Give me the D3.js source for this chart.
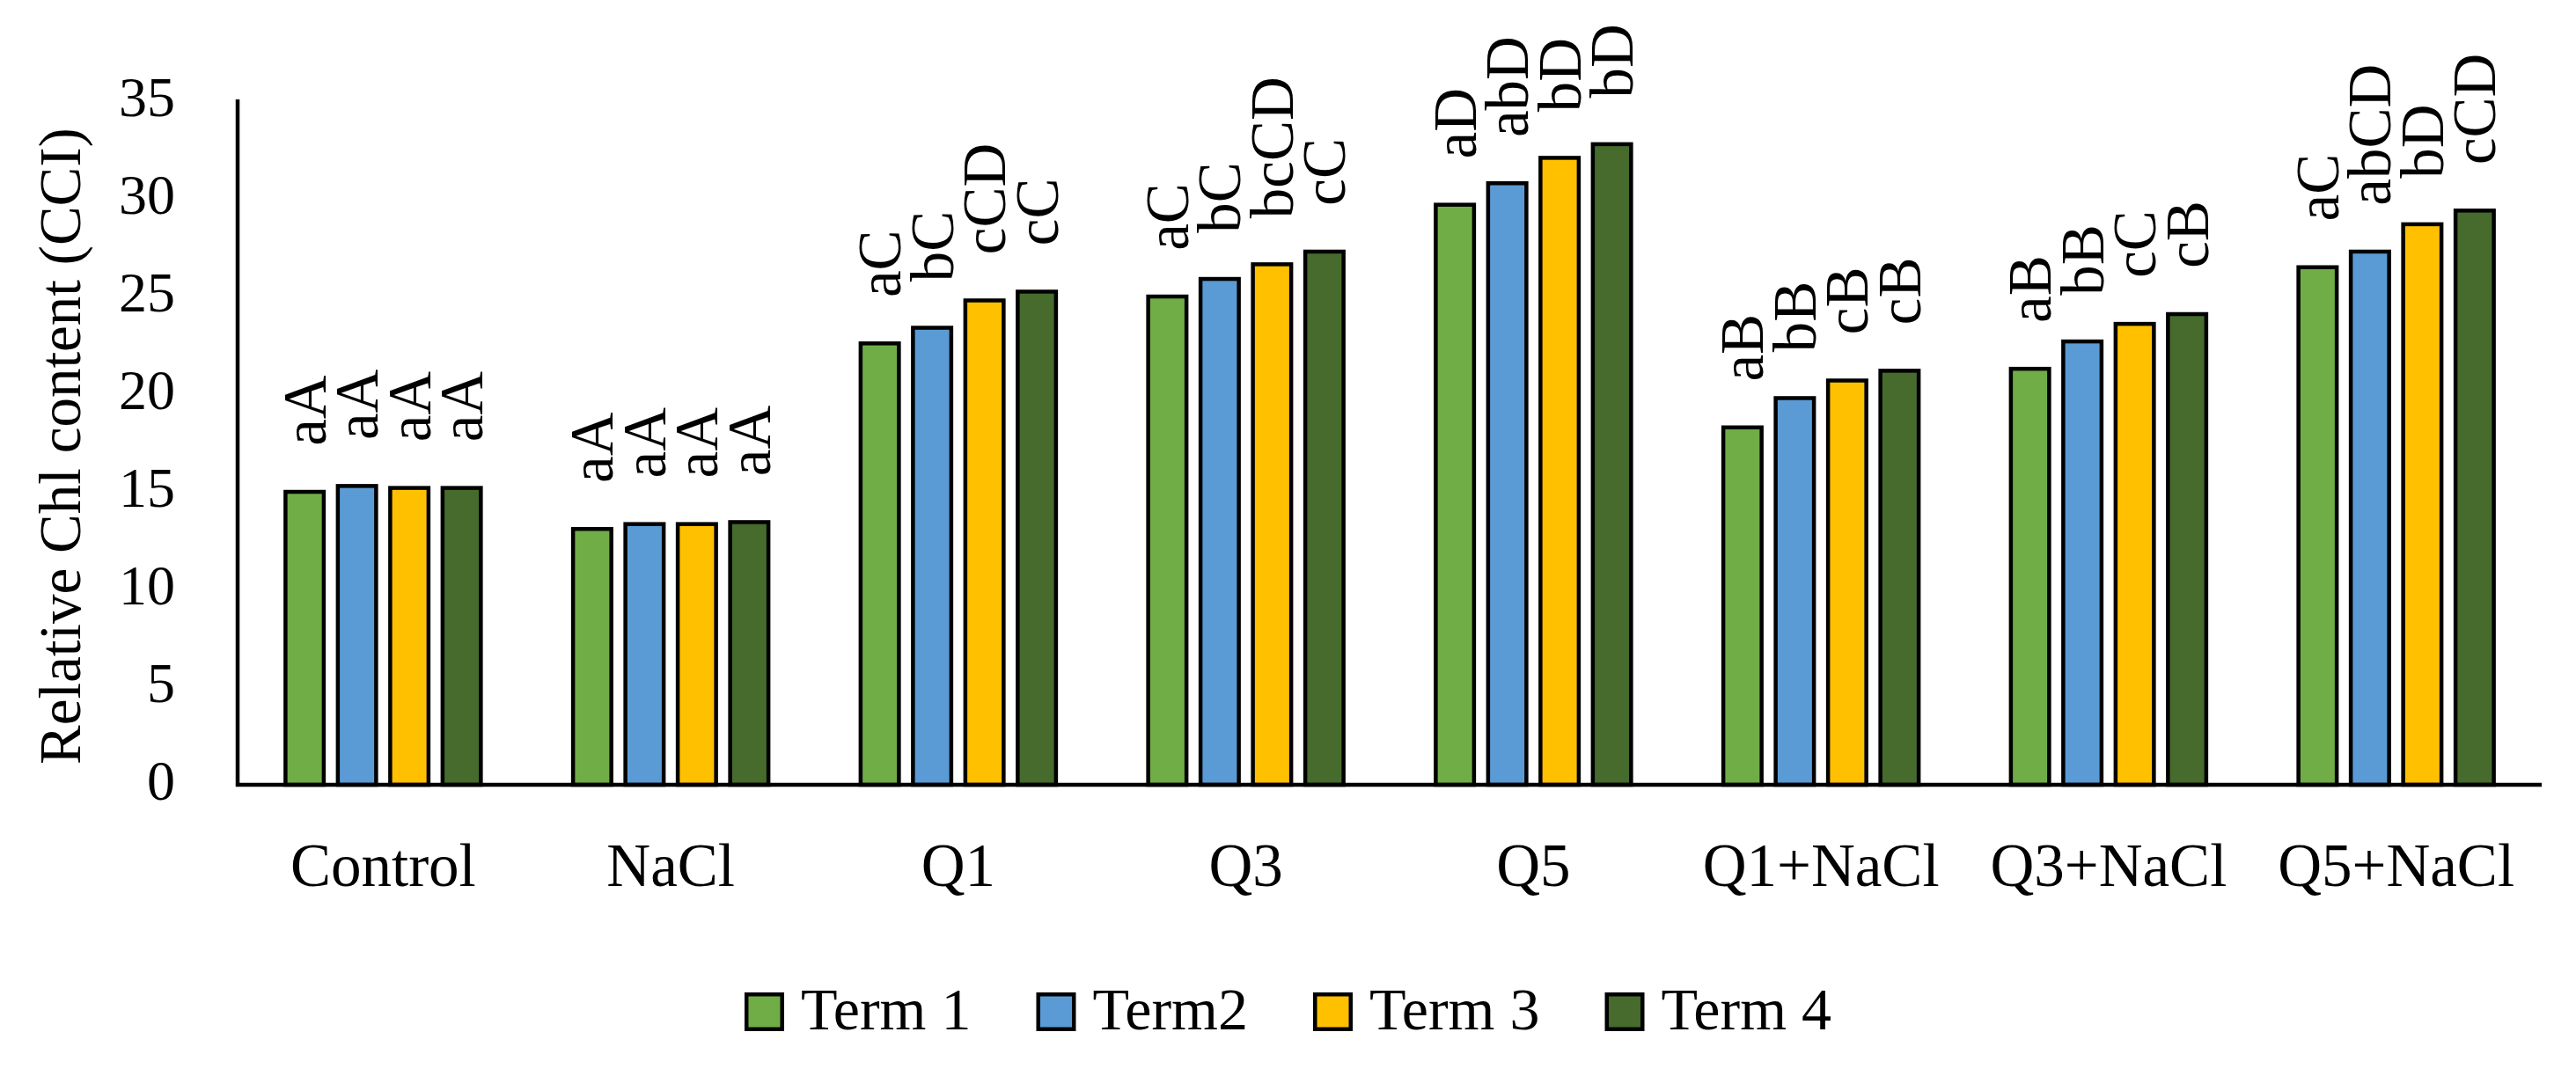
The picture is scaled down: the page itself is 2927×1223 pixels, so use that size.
<!DOCTYPE html>
<html lang="en">
<head>
  <meta charset="UTF-8">
  <title>Relative Chl content</title>
  <style>
    body { margin: 0; background: #fff; }
    svg text { font-family: 'Liberation Serif', 'Times New Roman', serif; fill: #000; }
  </style>
</head>
<body>
  <svg id="chart" width="2927" height="1223"></svg>

  <script src="https://d3js.org/d3.v7.min.js"></script>
  <script>
    // data
    const categories = ['Control', 'NaCl', 'Q1', 'Q3', 'Q5', 'Q1+NaCl', 'Q3+NaCl', 'Q5+NaCl'];
    const seriesNames = ['Term 1', 'Term2', 'Term 3', 'Term 4'];
    const term1 = [15.1, 13.2, 22.7, 25.1, 29.8, 18.4, 21.4, 26.6];
    const term2 = [15.4, 13.45, 23.5, 26.0, 30.9, 19.9, 22.8, 27.4];
    const term3 = [15.3, 13.45, 24.9, 26.75, 32.2, 20.8, 23.7, 28.8];
    const term4 = [15.3, 13.55, 25.35, 27.4, 32.9, 21.3, 24.2, 29.5];
    const letters1 = ['aA', 'aA', 'aC', 'aC', 'aD', 'aB', 'aB', 'aC'];
    const letters2 = ['aA', 'aA', 'bC', 'bC', 'abD', 'bB', 'bB', 'abCD'];
    const letters3 = ['aA', 'aA', 'cCD', 'bcCD', 'bD', 'cB', 'cC', 'bD'];
    const letters4 = ['aA', 'aA', 'cC', 'cC', 'bD', 'cB', 'cB', 'cCD'];
    const yTicks = [0, 5, 10, 15, 20, 25, 30, 35];
    const colors = ['#70AD47', '#5B9BD5', '#FFC000', '#466B2D'];

    const values = [term1, term2, term3, term4];
    const letters = [letters1, letters2, letters3, letters4];

    const svg = d3.select('#chart');
    const sw = 4.5; // bar outline

    const x0 = d3.scaleBand().domain(categories).range([272, 2886]).padding(0);
    const groupW = 226.5;
    const x1 = d3.scaleBand().domain(d3.range(4))
      .range([(x0.bandwidth() - groupW) / 2, (x0.bandwidth() + groupW) / 2])
      .paddingInner(0.193).paddingOuter(0);
    const y = d3.scaleLinear().domain([0, 35]).range([892, 115]);

    // y tick labels (no tick marks)
    const yAxis = svg.append('g')
      .attr('transform', 'translate(199,0)')
      .call(d3.axisLeft(y).tickValues(yTicks).tickSize(0).tickPadding(0));
    yAxis.select('.domain').remove();
    yAxis.selectAll('text')
      .attr('dy', '0.26em')
      .style('font-family', "'Liberation Serif', serif")
      .style('font-size', '64px')
      .attr('fill', '#000');

    // bars
    const bars = [];
    categories.forEach((c, i) => {
      values.forEach((s, j) => bars.push({ cat: c, k: j, v: s[i], lab: letters[j][i] }));
    });

    const g = svg.append('g');
    g.selectAll('rect')
      .data(bars)
      .enter().append('rect')
      .attr('x', d => x0(d.cat) + x1(d.k) + sw / 2)
      .attr('y', d => y(d.v) + sw / 2)
      .attr('width', x1.bandwidth() - sw)
      .attr('height', d => y(0) - y(d.v) - sw / 2)
      .attr('fill', d => colors[d.k])
      .attr('stroke', '#000')
      .attr('stroke-width', sw);

    // significance letters, rotated above bars
    g.selectAll('text.lab')
      .data(bars)
      .enter().append('text')
      .attr('class', 'lab')
      .attr('transform', d => `translate(${x0(d.cat) + x1(d.k) + x1.bandwidth() / 2},${y(d.v) - 50}) rotate(-90)`)
      .attr('dy', '0.34em')
      .attr('text-anchor', 'start')
      .style('font-size', '69px')
      .text(d => d.lab);

    // axis lines
    svg.append('line')
      .attr('x1', 270).attr('x2', 270).attr('y1', 113).attr('y2', y(0) + 2)
      .attr('stroke', '#000').attr('stroke-width', sw);
    svg.append('line')
      .attr('x1', 268).attr('x2', 2888).attr('y1', y(0)).attr('y2', y(0))
      .attr('stroke', '#000').attr('stroke-width', sw);

    // category labels
    svg.append('g').selectAll('text')
      .data(categories)
      .enter().append('text')
      .attr('x', d => x0(d) + x0.bandwidth() / 2)
      .attr('y', 1007)
      .attr('text-anchor', 'middle')
      .style('font-size', '69px')
      .text(d => d);

    // y axis title
    svg.append('text')
      .attr('transform', 'translate(91,507) rotate(-90)')
      .attr('text-anchor', 'middle')
      .style('font-size', '67px')
      .text('Relative Chl content (CCI)');

    // legend
    const legend = svg.append('g');
    let lx = 0;
    seriesNames.forEach((name, j) => {
      const item = legend.append('g').attr('transform', `translate(${lx},0)`);
      item.append('rect')
        .attr('x', sw / 2).attr('y', 1128 + sw / 2)
        .attr('width', 45 - sw).attr('height', 44 - sw)
        .attr('fill', colors[j]).attr('stroke', '#000').attr('stroke-width', sw);
      const t = item.append('text')
        .attr('x', 64).attr('y', 1170)
        .style('font-size', '68px')
        .text(name);
      lx += 64 + t.node().getComputedTextLength() + 74;
    });
    const lw = lx - 74;
    legend.attr('transform', `translate(${(2927 - lw) / 2},0)`);
  </script>
</body>
</html>
